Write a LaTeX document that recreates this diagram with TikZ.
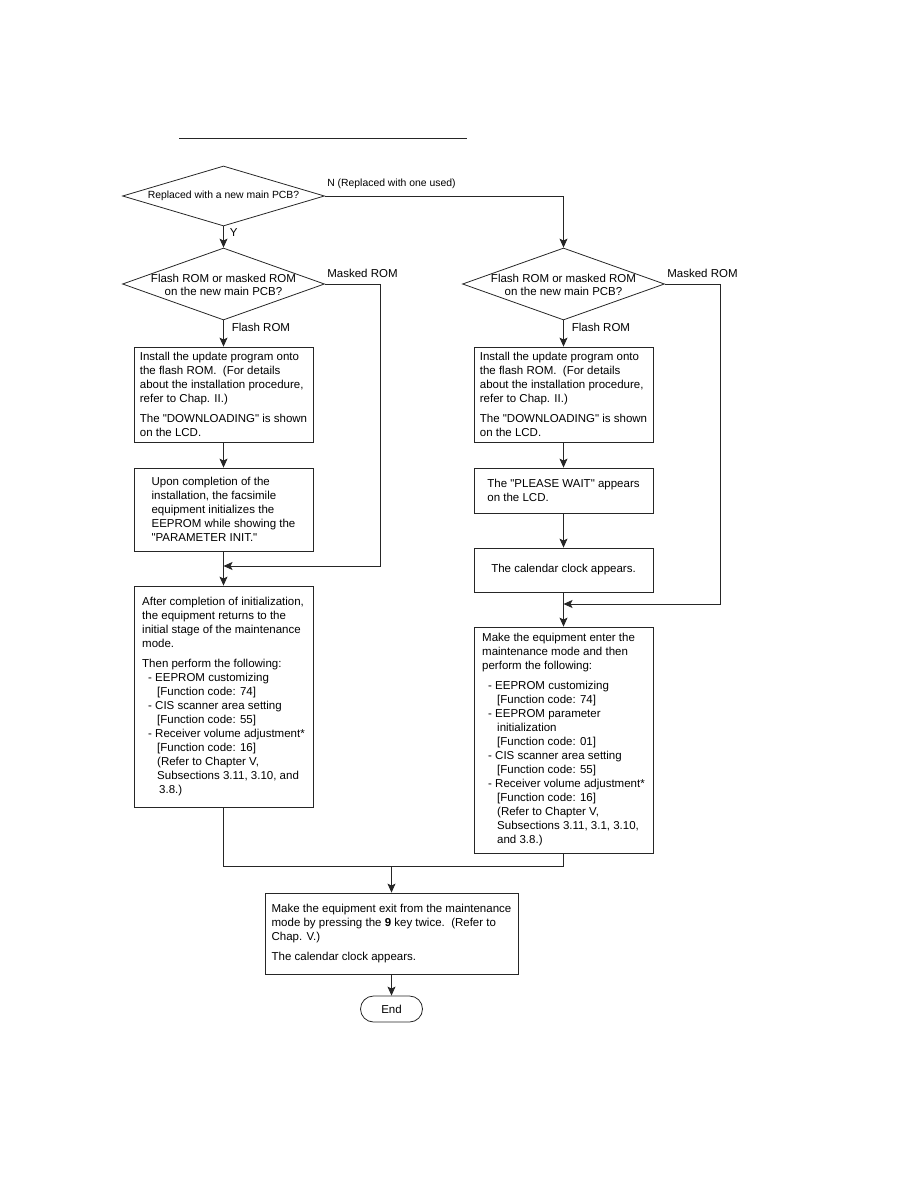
\documentclass[tikz,border=0pt]{standalone}
\usepackage{fontspec}
\setmainfont{Liberation Sans}
\usetikzlibrary{shapes.geometric,arrows.meta}
\newcommand{\itemdash}{\hspace*{6pt}- }
\newcommand{\itemcont}{\hspace*{15pt}}
\newcommand{\qt}[1]{\textquotedbl #1\textquotedbl}

\begin{document}
\begin{tikzpicture}[x=1pt,y=-1pt,
  wire/.style={draw=black!85,line width=0.8pt},
  flow/.style={wire,-{Stealth[length=9pt,width=8pt,inset=2pt]}},
  box/.style={wire,rectangle,align=left,minimum width=179pt,inner sep=3pt,font=\fontsize{11.5}{14}\selectfont},
  decision/.style={wire,diamond,minimum width=202pt,minimum height=72pt,inner sep=0pt},
  dtext/.style={align=center,inner sep=0pt,font=\fontsize{11.5}{13}\selectfont},
  lbl/.style={inner sep=2pt,font=\fontsize{11.5}{14}\selectfont}]
\useasboundingbox (0,0) rectangle (918,1188);

\draw[wire] (179,138) -- (467,138);

\node[decision,minimum height=60pt,label={[dtext,font=\fontsize{10.4}{13}\selectfont]center:{Replaced with a new main PCB?}}] (q1) at (223.5,196) {};
\node[decision,label={[dtext,yshift=-1pt]center:{Flash ROM or masked ROM\\on the new main PCB?}}] (q2) at (223.5,284) {};
\node[decision,label={[dtext,yshift=-1pt]center:{Flash ROM or masked ROM\\on the new main PCB?}}] (q3) at (563.5,284) {};

\node[box,minimum height=95pt] (l1) at (223.5,394.5) {Install the update program onto\\the flash ROM.\ \ (For details\\about the installation procedure,\\refer to Chap. II.)\\[6pt]The \qt{DOWNLOADING} is shown\\on the LCD.};
\node[box,minimum height=83pt] (l2) at (223.5,509.5) {Upon completion of the\\installation, the facsimile\\equipment initializes the\\EEPROM while showing the\\\qt{PARAMETER INIT.}};
\node[box,minimum height=221pt] (l3) at (223.5,696.5) {After completion of initialization,\\the equipment returns to the\\initial stage of the maintenance\\mode.\\[6pt]Then perform the following:\\\itemdash EEPROM customizing\\\itemcont[Function code: 74]\\\itemdash CIS scanner area setting\\\itemcont[Function code: 55]\\\itemdash Receiver volume adjustment*\\\itemcont[Function code: 16]\\\itemcont(Refer to Chapter V,\\\itemcont Subsections 3.11, 3.10, and\\\hspace*{17pt}3.8.)};

\node[box,minimum height=95pt] (r1) at (563.5,394.5) {Install the update program onto\\the flash ROM.\ \ (For details\\about the installation procedure,\\refer to Chap. II.)\\[6pt]The \qt{DOWNLOADING} is shown\\on the LCD.};
\node[box,minimum height=45pt] (r2) at (563.5,490.5) {The \qt{PLEASE WAIT} appears\\on the LCD.};
\node[box,minimum height=44pt] (r3) at (563.5,570) {The calendar clock appears.};
\node[box,minimum height=226pt] (r4) at (563.5,740) {Make the equipment enter the\\maintenance mode and then\\perform the following:\\[6pt]\itemdash EEPROM customizing\\\itemcont[Function code: 74]\\\itemdash EEPROM parameter\\\itemcont initialization\\\itemcont[Function code: 01]\\\itemdash CIS scanner area setting\\\itemcont[Function code: 55]\\\itemdash Receiver volume adjustment*\\\itemcont[Function code: 16]\\\itemcont(Refer to Chapter V,\\\itemcont Subsections 3.11, 3.1, 3.10,\\\itemcont and 3.8.)};

\node[box,minimum width=253pt,minimum height=81pt] (fin) at (391.5,933.5) {Make the equipment exit from the maintenance\\mode by pressing the \textbf{9} key twice.\ \ (Refer to\\Chap. V.)\\[6pt]The calendar clock appears.};
\node[wire,rectangle,rounded corners=13pt,minimum width=62pt,minimum height=26pt,font=\fontsize{11.5}{14}\selectfont] (end) at (391.5,1009) {End};

\coordinate (jl) at (223.5,566);
\coordinate (jr) at (563.5,604);
\coordinate (jb) at (391.5,866);

\draw[flow] (q1.south) -- node[lbl,anchor=west,pos=0.3,xshift=4pt] {Y} (q2.north);
\draw[flow] (q1.east) -| node[lbl,anchor=south west,pos=0,yshift=5pt,font=\fontsize{10.4}{13}\selectfont] {N (Replaced with one used)} (q3.north);
\draw[flow] (q2.south) -- node[lbl,anchor=west,pos=0.27,xshift=6pt] {Flash ROM} (l1.north);
\draw[flow] (q2.east) -- node[lbl,anchor=south west,pos=0,yshift=4pt] {Masked ROM} ++(55,0) |- (jl);
\draw[flow] (l1) -- (l2);
\draw[flow] (l2) -- (l3);
\draw[flow] (q3.south) -- node[lbl,anchor=west,pos=0.27,xshift=6pt] {Flash ROM} (r1.north);
\draw[flow] (q3.east) -- node[lbl,anchor=south west,pos=0,yshift=4pt] {Masked ROM} ++(55,0) |- (jr);
\draw[flow] (r1) -- (r2);
\draw[flow] (r2) -- (r3);
\draw[flow] (r3) -- (r4);
\draw[wire] (l3.south) |- (jb) -| (r4.south);
\draw[flow] (jb) -- (fin.north);
\draw[flow] (fin) -- (end);
\end{tikzpicture}
\end{document}
